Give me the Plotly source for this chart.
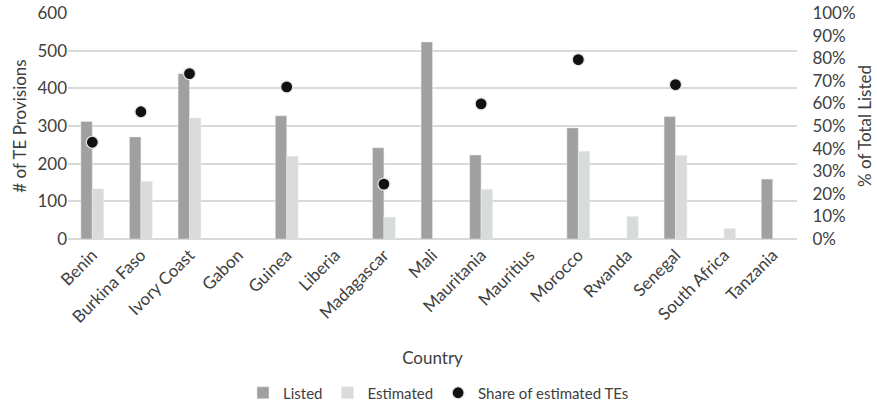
import plotly.graph_objects as go

countries = ["Benin", "Burkina Faso", "Ivory Coast", "Gabon", "Guinea", "Liberia",
             "Madagascar", "Mali", "Mauritania", "Mauritius", "Morocco", "Rwanda",
             "Senegal", "South Africa", "Tanzania"]
listed = [312, 271, 439, None, 327, None, 242, 523, 223, None, 295, None, 325, None, 159]
estimated = [133, 153, 321, None, 220, None, 58, None, 132, None, 233, 60, 222, 28, None]
share_pct = [42.8, 56.3, 73.2, None, 67.3, None, 24.3, None, 59.8, None, 79.4, None, 68.3, None, None]

left_ticks = [0, 100, 200, 300, 400, 500, 600]
right_ticks = list(range(0, 101, 10))
right_labels = [f"{v}%" for v in right_ticks]

FONT = "Lato"
TXT = "#404040"

fig = go.Figure()
fig.add_trace(go.Bar(x=countries, y=listed, name="Listed", marker_color="#a0a0a0"))
fig.add_trace(go.Bar(x=countries, y=estimated, name="Estimated", marker_color="#d9dbdb"))
fig.add_trace(go.Scatter(
    x=countries, y=share_pct, name="Share of estimated TEs", mode="markers",
    yaxis="y2",
    marker=dict(color="#111111", size=12, line=dict(color="#e6e6e6", width=1.2)),
))

fig.update_layout(
    width=877, height=406,
    margin=dict(l=68, r=80, t=13, b=167),
    paper_bgcolor="white", plot_bgcolor="white",
    font=dict(family=FONT, size=16, color=TXT),
    barmode="group", bargap=0.53, bargroupgap=0,
    showlegend=True,
    legend=dict(orientation="h", xref="container", yref="container",
                x=0.5, xanchor="center", y=0.032, yanchor="middle",
                font=dict(size=15, color=TXT), itemwidth=30,
                traceorder="normal"),
    xaxis=dict(
        type="category", range=[-0.5, len(countries) - 0.5],
        tickangle=-45, showgrid=False, ticks="",
        automargin=False, ticklabelstandoff=2,
        tickfont=dict(size=17, color=TXT),
        title=dict(text="Country", font=dict(size=17, color=TXT), standoff=26),
    ),
    yaxis=dict(
        range=[0, 600], tickvals=left_ticks, showgrid=True, automargin=False,
        gridcolor="#d9d9d9", gridwidth=1.5, zeroline=True,
        zerolinecolor="#d9d9d9", zerolinewidth=1.5, ticks="",
        tickfont=dict(size=17, color=TXT),
        title=dict(text="# of TE Provisions", font=dict(size=17, color=TXT), standoff=6),
    ),
    yaxis2=dict(
        range=[0, 100], tickvals=right_ticks, ticktext=right_labels,
        overlaying="y", side="right", showgrid=False, zeroline=False, automargin=False,
        ticks="outside", ticklen=11, tickcolor="rgba(0,0,0,0)",
        tickfont=dict(size=17, color=TXT),
        title=dict(text="% of Total Listed", font=dict(size=17, color=TXT), standoff=4),
    ),
)

fig.write_html("out.html")
